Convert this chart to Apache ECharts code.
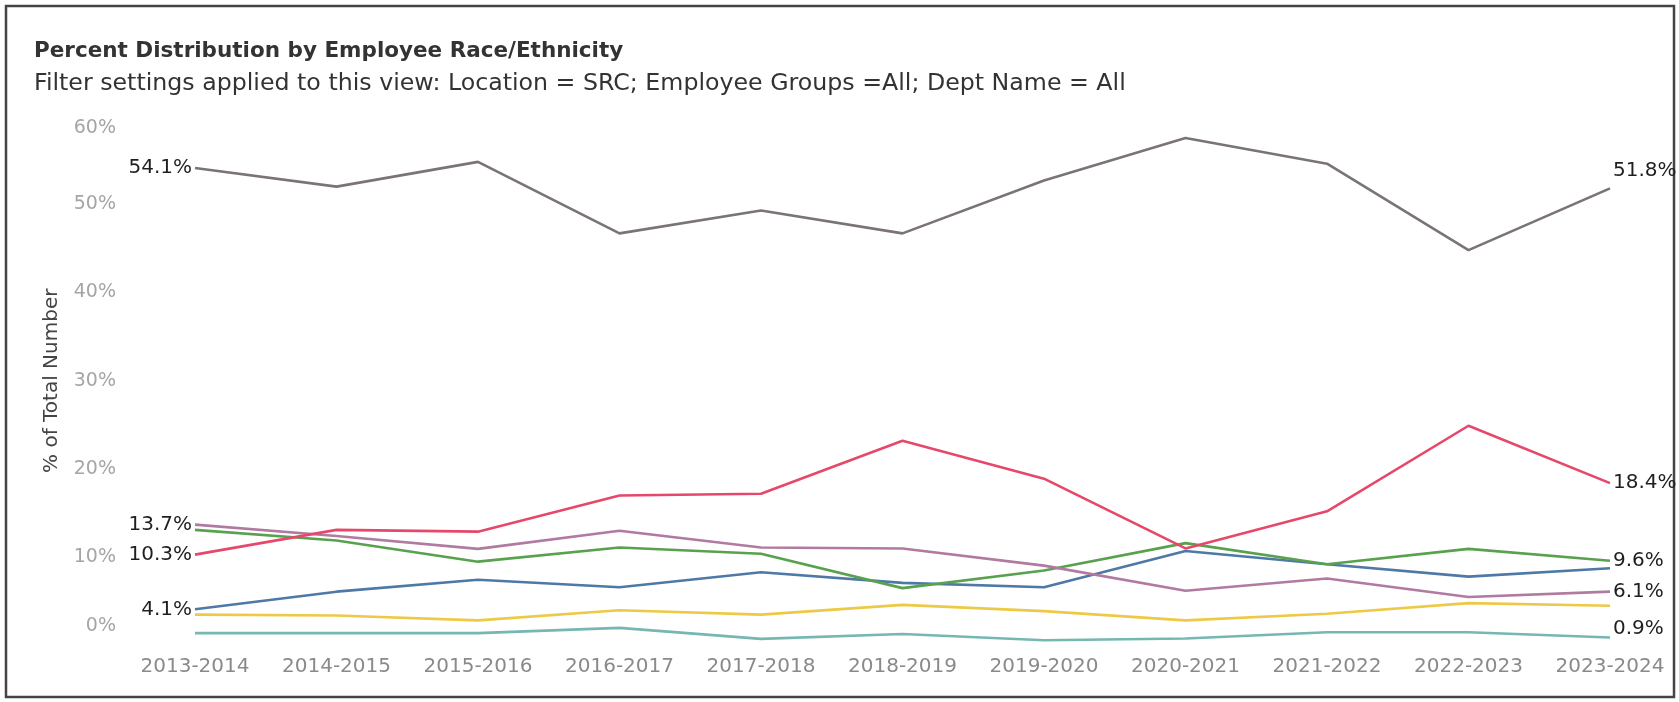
<!DOCTYPE html>
<html>
<head>
<meta charset="utf-8">
<script src="https://cdn.jsdelivr.net/npm/echarts@6/dist/echarts.min.js"></script>
<style>
html,body{margin:0;padding:0;background:#fff;}
#c{width:1679px;height:702px;}
</style>
</head>
<body>
<div id="c"></div>
<script>
const categories = ['2013-2014','2014-2015','2015-2016','2016-2017','2017-2018','2018-2019','2019-2020','2020-2021','2021-2022','2022-2023','2023-2024'];
const yTicks = [0, 10, 20, 30, 40, 50, 60];
const grayVals   = [54.1, 52.0, 54.8, 46.7, 49.3, 46.7, 52.7, 57.5, 54.6, 44.8, 51.8];
const redVals    = [10.3, 13.1, 12.9, 17.0, 17.2, 23.2, 18.9, 11.0, 15.2, 24.9, 18.4];
const purpleVals = [13.7, 12.4, 10.95, 13.0, 11.1, 11.0, 9.05, 6.2, 7.6, 5.5, 6.1];
const greenVals  = [13.1, 11.9, 9.5, 11.1, 10.4, 6.5, 8.5, 11.6, 9.2, 10.95, 9.6];
const blueVals   = [4.1, 6.1, 7.45, 6.6, 8.3, 7.1, 6.6, 10.7, 9.2, 7.8, 8.75];
const yellowVals = [3.5, 3.4, 2.85, 4.0, 3.5, 4.6, 3.9, 2.85, 3.6, 4.8, 4.5];
const tealVals   = [1.4, 1.4, 1.4, 2.0, 0.75, 1.3, 0.6, 0.8, 1.5, 1.5, 0.9];

const FONT = 'DejaVu Sans';
const last = categories.length - 1;

function mk(name, vals, color, leftLbl, rightLbl, rightDy) {
  const data = vals.map((v, i) => {
    const item = { value: v };
    if (i === 0 && leftLbl) {
      item.label = { show: true, position: [-3, 0], align: 'right', verticalAlign: 'middle' };
    } else if (i === last && rightLbl) {
      item.label = { show: true, position: [3, rightDy || 0], align: 'left', verticalAlign: 'middle' };
    }
    return item;
  });
  return {
    name: name, type: 'line', data: data,
    symbol: 'circle', symbolSize: 0.01, showSymbol: true, smooth: false,
    lineStyle: { color: color, width: 2.6 }, itemStyle: { color: color },
    label: { show: false, formatter: p => p.value.toFixed(1) + '%', color: '#1f1f1f', fontFamily: FONT, fontSize: 20 },
    emphasis: { disabled: true }, z: 3
  };
}

const chart = echarts.init(document.getElementById('c'), null, { renderer: 'canvas' });
chart.setOption({
  animation: false,
  backgroundColor: '#fff',
  title: [
    { text: 'Percent Distribution by Employee Race/Ethnicity', left: 29, top: 35,
      textStyle: { fontFamily: FONT, fontSize: 21.5, fontWeight: 'bold', color: '#333' } },
    { text: 'Filter settings applied to this view: Location = SRC; Employee Groups =All; Dept Name = All', left: 29, top: 67,
      textStyle: { fontFamily: FONT, fontSize: 23.7, fontWeight: 'normal', color: '#333' } }
  ],
  graphic: [
    { type: 'rect', shape: { x: 6, y: 6, width: 1668, height: 691 }, style: { fill: 'none', stroke: '#444', lineWidth: 2.5 }, silent: true }
  ],
  grid: { left: 195, right: 69, top: 116, bottom: 56.5, containLabel: false },
  xAxis: {
    type: 'category', data: categories, boundaryGap: false,
    axisLine: { show: false }, axisTick: { show: false }, splitLine: { show: false },
    axisLabel: { color: '#8a8a8a', fontFamily: FONT, fontSize: 20, margin: 11, interval: 0 }
  },
  yAxis: {
    type: 'value', min: yTicks[0], max: yTicks[yTicks.length - 1], interval: yTicks[1] - yTicks[0],
    name: '% of Total Number', nameLocation: 'middle', nameGap: 133, nameRotate: 90,
    nameTextStyle: { color: '#444', fontFamily: FONT, fontSize: 20 },
    axisLine: { show: false }, axisTick: { show: false }, splitLine: { show: false },
    axisLabel: {
      color: '#a5a5a5', fontFamily: FONT, fontSize: 19, margin: 79,
      formatter: v => v === 0 ? '{z|0%}' : (v === 60 ? '{t|60%}' : v + '%'),
      rich: {
        z: { color: '#a5a5a5', fontFamily: FONT, fontSize: 19, padding: [0, 0, 38, 0] },
        t: { color: '#a5a5a5', fontFamily: FONT, fontSize: 19, padding: [25, 0, 0, 0] }
      }
    }
  },
  series: [
    mk('Teal', tealVals, '#76b7b2', false, true, -9),
    mk('Yellow', yellowVals, '#edc948', false, false),
    mk('Blue', blueVals, '#4e79a7', true, false),
    mk('Green', greenVals, '#59a14f', false, true),
    mk('Purple', purpleVals, '#b07aa1', true, true),
    mk('Red', redVals, '#e6486b', true, true),
    mk('Gray', grayVals, '#7a7472', true, true, -18)
  ]
});
</script>
</body>
</html>
